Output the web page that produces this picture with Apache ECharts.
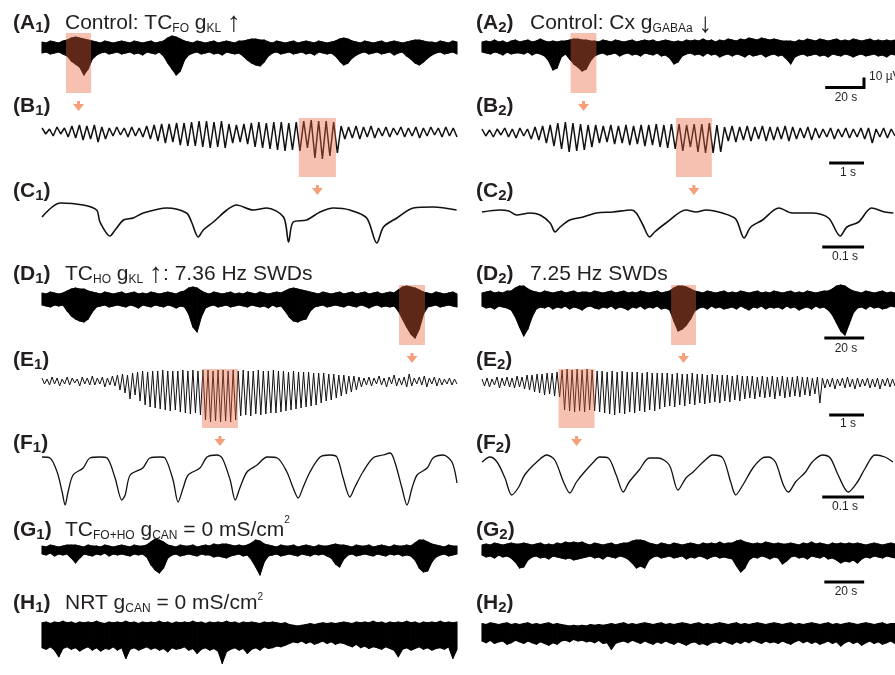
<!DOCTYPE html>
<html><head><meta charset="utf-8">
<script src="https://cdn.jsdelivr.net/npm/echarts@6/dist/echarts.min.js"></script>
<style>html,body{margin:0;padding:0;background:#fff}#c{width:895px;height:675px}</style>
</head><body><div id="c"></div>
<script>
// ---------------- DATA (µV amplitude, time in s or ms) ----------------
const durA = 213, durB = 11.86, durC = 988, durD = 207.5, durE = 11.86, durF = 988, durG = 207.5, durH = 207.5;

// dense traces: upper / lower envelope per bin (µV)
const a1Hi = [5,4,6,5,4,6,7,9,10,9, 8,7,6,5,4,6,5,4,5,6, 5,4,6,5,4,5,6,4,5,6, 9,11,10,8,6,5,4,6,5,4, 5,6,4,5,6,5,4,6,6,7, 8,8,7,7,5,4,6,5,4,5, 6,4,5,6,5,4,6,5,4,5, 6,8,9,8,6,5,4,6,5,4, 5,6,4,5,6,5,4,5,6,7, 7,6,5,5,4,6,5,4,6,5];
const a1Lo = [-6,-5,-7,-6,-5,-7,-9,-14,-17,-20, -28,-22,-12,-8,-6,-5,-7,-6,-5,-7, -6,-5,-7,-6,-8,-5,-6,-7,-5,-9, -16,-22,-28,-24,-13,-8,-6,-5,-7,-6, -5,-7,-6,-8,-5,-6,-7,-6,-9,-13, -16,-18,-19,-15,-9,-6,-5,-7,-6,-5, -7,-6,-5,-7,-6,-8,-5,-6,-7,-6, -9,-14,-18,-16,-11,-8,-6,-5,-7,-6, -5,-7,-6,-5,-8,-6,-5,-9,-12,-16, -18,-15,-11,-8,-6,-5,-7,-6,-5,-7];
const a2Hi = [5,6,5,7,5,6,4,6,7,5, 6,7,5,6,8,6,5,6,5,6, 6,7,8,8,7,7,6,6,5,7, 6,5,7,6,5,6,7,5,6,7, 6,7,5,6,7,6,5,6,5,7, 6,7,6,8,6,7,5,7,6,8, 7,6,8,7,9,8,7,9,8,7, 8,7,6,6,6,5,7,6,8,7, 6,8,7,6,7,8,6,7,6,8, 7,6,7,8,6,7,6,7,6,7];
const a2Lo = [-5,-6,-7,-5,-6,-8,-5,-7,-6,-6, -7,-5,-8,-6,-7,-9,-14,-23,-21,-10, -7,-12,-17,-20,-24,-22,-14,-9,-7,-6, -8,-7,-6,-9,-7,-6,-8,-7,-9,-6, -7,-8,-6,-9,-8,-11,-17,-15,-9,-7, -6,-8,-7,-9,-6,-8,-7,-10,-8,-7, -9,-7,-8,-10,-7,-9,-8,-7,-10,-8, -7,-9,-8,-12,-17,-10,-8,-7,-9,-8, -7,-9,-8,-10,-7,-8,-9,-7,-8,-10, -8,-7,-9,-8,-7,-9,-8,-10,-7,-8];
const d1Hi = [6,5,7,6,5,6,8,10,11,10, 10,8,7,6,5,7,6,5,6,7, 5,6,7,5,6,5,7,6,5,6, 7,6,5,7,8,11,12,11,8,6, 5,7,6,5,6,7,5,6,5,7, 6,5,7,6,5,6,7,6,8,10, 11,10,9,8,7,6,5,7,6,5, 6,7,5,6,7,5,6,7,5,6, 7,5,6,7,6,9,12,13,12,11, 9,7,6,5,7,6,5,6,7,5];
const d1Lo = [-6,-7,-8,-6,-7,-6,-12,-17,-20,-22, -23,-20,-13,-8,-7,-6,-8,-7,-6,-7, -8,-6,-7,-9,-6,-7,-8,-6,-7,-8, -6,-7,-9,-7,-8,-15,-28,-33,-18,-9, -7,-6,-8,-7,-6,-8,-7,-6,-7,-8, -6,-7,-8,-7,-9,-6,-8,-7,-12,-18, -22,-23,-21,-20,-12,-8,-7,-6,-8,-7, -6,-7,-8,-6,-7,-8,-6,-7,-9,-7, -6,-8,-7,-8,-7,-12,-20,-28,-35,-39, -30,-15,-8,-7,-6,-8,-7,-6,-7,-8];
const d2Hi = [6,7,8,6,7,6,8,8,11,13, 13,10,8,7,6,8,7,6,7,8, 6,7,8,6,7,7,6,8,7,6, 7,8,6,7,8,6,7,6,8,7, 6,7,8,6,7,8,11,13,13,12, 10,8,7,6,8,7,6,7,8,6, 7,6,8,7,6,7,8,6,7,6, 8,7,6,7,8,6,7,6,8,7, 6,7,8,8,10,13,14,13,10,8, 7,6,8,7,6,7,8,6,7,6];
const d2Lo = [-7,-9,-8,-10,-7,-8,-9,-11,-18,-28, -37,-30,-18,-10,-8,-9,-7,-10,-8,-9, -7,-10,-8,-9,-11,-8,-7,-9,-10,-8, -9,-7,-10,-8,-9,-11,-8,-9,-7,-10, -8,-9,-7,-10,-9,-11,-22,-32,-30,-26, -20,-12,-9,-8,-10,-7,-9,-8,-10,-9, -8,-10,-7,-9,-11,-8,-9,-7,-10,-8, -9,-8,-10,-7,-9,-8,-11,-9,-8,-10, -7,-9,-8,-11,-16,-24,-32,-36,-25,-14, -9,-8,-10,-7,-9,-8,-10,-9,-7,-8];
const g1Hi = [4,3,5,4,3,4,5,5,5,4, 3,5,4,4,3,5,4,3,4,5, 4,3,5,4,4,5,8,11,10,8, 5,4,3,5,4,4,5,3,4,5, 4,6,5,6,6,5,4,5,4,5, 7,10,9,6,5,4,3,5,4,4, 5,3,4,5,4,3,5,4,4,5, 6,5,5,4,3,5,4,4,5,3, 4,5,4,3,5,4,4,5,4,7, 10,10,8,6,5,4,3,5,4,4];
const g1Lo = [-4,-5,-3,-6,-4,-5,-4,-8,-13,-8, -4,-5,-6,-4,-5,-3,-6,-4,-5,-4, -5,-6,-4,-5,-4,-7,-15,-20,-23,-18, -8,-5,-4,-6,-5,-4,-5,-6,-4,-5, -5,-7,-6,-7,-8,-6,-5,-4,-6,-5, -10,-17,-25,-12,-6,-5,-4,-6,-5,-4, -5,-6,-4,-5,-6,-4,-5,-4,-6,-8, -14,-17,-9,-5,-4,-6,-5,-4,-5,-6, -4,-5,-6,-4,-5,-4,-6,-5,-6,-10, -18,-22,-21,-12,-7,-5,-4,-6,-5,-4];
const g2Hi = [5,6,5,7,6,5,6,7,6,6, 7,6,5,6,7,5,6,5,7,6, 8,7,8,7,8,6,5,7,6,5, 6,7,5,6,7,7,9,10,10,9, 7,6,5,7,6,5,7,6,5,6, 7,6,5,7,6,7,6,8,6,7, 7,9,10,8,7,6,7,6,8,7, 6,7,6,6,7,6,5,7,6,8, 6,7,6,5,7,6,7,6,7,6, 7,6,5,6,7,6,5,6,7,6];
const g2Lo = [-5,-7,-6,-8,-5,-7,-6,-8,-12,-18, -17,-10,-7,-6,-8,-7,-9,-6,-7,-8, -9,-8,-10,-9,-8,-7,-6,-8,-7,-9, -6,-7,-8,-6,-7,-9,-13,-18,-16,-18, -10,-7,-6,-8,-7,-6,-8,-7,-6,-9, -7,-8,-6,-7,-9,-7,-6,-8,-7,-8, -9,-16,-22,-18,-10,-7,-8,-6,-7,-9, -7,-8,-14,-11,-7,-6,-8,-7,-9,-6, -7,-8,-6,-9,-8,-10,-13,-11,-12,-10, -13,-9,-7,-8,-6,-7,-8,-6,-7,-8];
const h1Hi = [13,14,12,14,13,15,13,14,12,14, 13,14,13,15,13,12,14,13,14,13, 15,13,14,12,14,13,14,13,15,13, 14,12,14,13,14,13,15,13,14,12, 14,13,14,13,15,13,14,12,14,13, 14,13,12,14,13,14,13,12,13,11, 10,9,10,11,12,11,12,13,12,13, 12,13,14,13,12,14,13,14,13,15, 13,14,12,14,13,14,13,15,13,14, 12,14,13,14,13,15,13,14,13,14];
const h1Lo = [-17,-19,-16,-20,-28,-18,-16,-19,-17,-21, -18,-16,-20,-17,-21,-18,-19,-16,-20,-17, -30,-19,-17,-20,-18,-16,-19,-17,-20,-18, -22,-17,-19,-18,-16,-20,-18,-24,-19,-17, -20,-18,-21,-36,-22,-19,-17,-20,-18,-24, -19,-17,-20,-16,-18,-17,-15,-16,-14,-12, -10,-11,-9,-12,-10,-13,-11,-9,-12,-10, -13,-11,-12,-14,-16,-13,-17,-15,-18,-16, -17,-19,-16,-18,-20,-28,-19,-17,-20,-18, -16,-19,-17,-20,-18,-17,-19,-16,-30,-19];
const h2Hi = [12,11,13,12,11,12,13,11,12,11, 12,13,11,12,11,12,13,11,12,11, 10,9,10,9,10,9,11,10,11,10, 11,12,11,12,13,11,12,11,12,13, 12,11,12,13,11,12,11,12,13,12, 11,12,13,11,12,11,12,13,12,11, 12,13,11,12,11,12,13,12,11,12, 13,12,11,12,13,11,12,11,12,13, 12,11,12,13,11,12,11,12,13,12, 11,12,13,12,11,12,13,11,12,12];
const h2Lo = [-9,-11,-8,-12,-10,-9,-13,-11,-8,-10, -12,-9,-11,-13,-10,-12,-14,-11,-13,-9, -8,-10,-7,-9,-8,-10,-9,-11,-8,-12, -11,-19,-12,-10,-9,-11,-8,-10,-12,-9, -11,-13,-10,-12,-9,-11,-13,-10,-12,-14, -11,-10,-13,-12,-14,-11,-10,-12,-9,-11, -13,-10,-12,-9,-11,-8,-10,-12,-9,-11, -10,-12,-9,-11,-13,-10,-8,-11,-9,-12, -10,-13,-11,-9,-12,-10,-15,-11,-9,-12, -10,-14,-11,-9,-12,-10,-13,-11,-9,-12];

// oscillation traces: alternating peak / trough (µV)
const b1 = [3,-3,2,-5,4,-3,3,-6,5,-7,6,-9,5,-8,6,-11,4,-8,3,-5,4,-4,3,-6,4,-5,3,-6,5,-8,6,-10,7,-12,7,-11,8,-14,8,-15,9,-15,10,-16,10,-17,9,-16,10,-17,7,-12,6,-11,7,-13,8,-16,9,-17,8,-18,9,-19,9,-20,8,-19,9,-20,10,-17,11,-27,10,-28,10,-25,9,-22,5,-8,4,-7,5,-8,4,-6,5,-7,3,-5,4,-6,3,-4,4,-6,3,-5,4,-7,3,-5,4,-4,3,-6,4,-5,3,-6];
const b2 = [2,-5,1,-6,2,-4,3,-6,2,-7,3,-5,2,-8,4,-9,5,-12,6,-15,8,-18,9,-21,8,-20,7,-19,6,-16,6,-12,5,-11,6,-13,5,-12,6,-14,5,-13,6,-15,6,-14,7,-16,6,-17,7,-18,7,-20,6,-16,7,-21,7,-22,8,-22,6,-21,4,-10,5,-11,4,-9,5,-10,4,-8,5,-10,4,-9,4,-8,5,-10,4,-8,3,-7,4,-9,3,-7,2,-6,3,-8,2,-6,3,-7,2,-6,3,-8,3,-12,2,-6,3,-7,2,-5];
const e1 = [3,-3,2,-4,4,-3,3,-5,2,-3,4,-4,3,-2,2,-5,4,-3,3,-4,5,-4,3,-3,4,-6,3,-4,5,-5,
  6,-9,7,-12,6,-18,8,-14,9,-20,
  10,-24,9,-26,10,-27,10,-28,11,-29,10,-30,10,-29,
  10,-31,11,-32,10,-33,11,-32,10,-34,
  11,-39,11,-41,10,-40,11,-41,11,-40,10,-41,11,-39,
  10,-35,11,-34,10,-35,10,-33,11,-34,10,-33,10,-32,11,-32,
  10,-31,10,-30,9,-29,10,-28,9,-27,9,-26,9,-25,8,-24,
  8,-22,8,-20,7,-19,7,-17,6,-15,6,-13,5,-11,5,-9,
  4,-6,3,-4,4,-5,3,-3,5,-4,3,-6,4,-3,6,-5,3,-4,4,-6,7,-5,3,-3,4,-4,5,-6,3,-3,4,-5,3,-4,2,-3,3,-4,2,-3];
const e2 = [2,-5,3,-6,2,-4,4,-7,3,-5,4,-6,3,-7,5,-6,4,-8,
  6,-9,6,-11,7,-12,7,-14,8,-13,8,-15,9,-16,
  11,-29,12,-30,11,-31,12,-30,11,-31,12,-29,11,-30,
  10,-31,10,-32,9,-33,10,-34,9,-32,10,-33,9,-31,9,-32,9,-30,8,-31,9,-29,8,-30,8,-28,
  8,-26,8,-25,7,-26,8,-24,7,-25,7,-23,8,-24,7,-22,7,-23,6,-22,7,-21,6,-22,6,-20,6,-21,5,-19,6,-20,
  5,-18,5,-17,5,-18,4,-16,5,-17,4,-16,5,-18,4,-15,5,-17,4,-16,4,-15,5,-16,4,-14,4,-15,3,-13,4,-22,
  3,-7,2,-6,3,-8,2,-5,3,-7,4,-6,2,-8,3,-6,2,-5,3,-7,2,-6,3,-8,2,-5,3,-6,2,-5];

// expanded cycles: [time ms, µV]
const c1 = [[0,-4],[43,10],[98,8],[130,3],[138,-9],[162,-23],[174,-17],[194,-7],[217,-5],[241,0],[297,5],[344,0],[356,-9],[372,-24],[384,-17],[408,-9],[440,3],[463,8],[503,3],[535,5],[575,-4],[587,-29],[598,-9],[630,-7],[662,1],[694,5],[733,3],[773,-5],[797,-30],[813,-14],[845,-5],[884,5],[932,6],[987,3]];
const c2 = [[0,1],[43,3],[64,2],[83,-2],[115,0],[139,-2],[163,-10],[175,-19],[187,-14],[210,-7],[242,-4],[274,0],[313,1],[357,3],[369,0],[385,-12],[401,-24],[413,-19],[440,-10],[488,3],[512,1],[536,3],[575,0],[607,-6],[627,-25],[643,-14],[671,-7],[710,5],[742,0],[790,0],[829,-5],[857,-23],[873,-14],[901,-9],[932,5],[964,1],[984,0]];
const f1 = [[0,8],[19,7],[36,-7],[48,-27],[55,-40],[62,-27],[74,-10],[98,-3],[114,7],[138,8],[155,7],[174,-13],[190,-35],[198,-30],[210,-10],[240,-3],[257,7],[281,8],[293,7],[312,-15],[324,-37],[336,-23],[348,-10],[376,-3],[393,8],[417,10],[429,7],[448,-15],[460,-35],[471,-23],[488,-7],[512,0],[536,8],[560,7],[583,-7],[598,-23],[610,-33],[621,-23],[638,-7],[662,8],[686,10],[702,8],[717,-13],[733,-32],[745,-22],[764,-7],[788,7],[812,10],[829,12],[840,3],[857,-23],[869,-40],[881,-23],[893,-10],[917,-3],[931,7],[955,10],[976,3],[988,-18]];
const f2 = [[0,3],[19,8],[36,3],[55,-13],[71,-30],[88,-22],[102,-10],[131,3],[155,10],[174,5],[195,-17],[210,-28],[226,-17],[243,-8],[267,3],[281,8],[302,7],[321,-10],[338,-27],[352,-17],[376,-5],[400,7],[421,7],[448,0],[469,-25],[488,-13],[505,-7],[529,3],[552,10],[576,7],[595,-17],[607,-30],[624,-20],[648,-3],[671,7],[686,8],[702,3],[721,-20],[733,-27],[750,-17],[774,-7],[790,3],[814,10],[833,7],[852,-10],[876,-27],[898,-17],[917,-3],[940,10],[964,8],[983,3]];

// highlighted windows: [t start, t end, µV top, µV bottom]
const boxA1 = [12.3, 25.2, 14, -46], boxA2 = [45.7, 59.0, 14, -46];
const boxB1 = [7.34, 8.40, 13, -46], boxB2 = [5.57, 6.60, 13, -46];
const boxD1 = [178.5, 191.5, 14, -46], boxD2 = [95, 107.5, 14, -46];
const boxE1 = [4.57, 5.60, 12, -47], boxE2 = [2.20, 3.23, 12, -47];

// scale bars
const sbA = [[177,-40.5],[197,-40.5],[197,-30.5]];
const sbB = [[9.97,-32],[10.97,-32]];
const sbC = [[814,-34],[914,-34]];
const sbD = [[172,-39],[192,-39]];
const sbE = [[9.97,-34],[10.97,-34]];
const sbF = [[814,-32],[914,-32]];
const sbG = [[172,-32],[192,-32]];

// ---------------- BUILD ----------------
const FAM = '"Liberation Sans", Arial, Helvetica, sans-serif';
const TXT = '#231f20';
const grids = [], xAxes = [], yAxes = [], series = [], graphics = [];
const L = 42, R = 482, W = 415;
function addGrid(left, base, dur){
  const i = grids.length;
  grids.push({left: left, width: W, top: base - 20, height: 70});
  xAxes.push({gridIndex: i, type: 'value', min: 0, max: dur, show: false});
  yAxes.push({gridIndex: i, type: 'value', min: -50, max: 20, show: false});
  return i;
}
// dense trace: band between upper and lower envelope, drawn bin by bin
function noise(gi, dur, hi, lo){
  const dt = dur / (hi.length - 1);
  const data = hi.map((v, i) => [i * dt, v, lo[i]]);
  series.push({type: 'custom', xAxisIndex: gi, yAxisIndex: gi, silent: true, clip: false,
    data: data, encode: {x: 0, y: [1, 2]},
    renderItem: function(params, api){
      const i = params.dataIndex;
      if (i >= data.length - 1) return null;
      const n = data[i + 1];
      const p1 = api.coord([api.value(0), api.value(1)]);
      const p2 = api.coord([n[0], n[1]]);
      const p3 = api.coord([n[0], n[2]]);
      const p4 = api.coord([api.value(0), api.value(2)]);
      return {type: 'polygon', shape: {points: [p1, p2, p3, p4]},
        style: {fill: '#000', stroke: '#000', lineWidth: 1.1, lineJoin: 'round'}};
    }});
}
function osc(gi, dur, vals, width){
  const dt = dur / (vals.length - 1);
  series.push({type: 'line', xAxisIndex: gi, yAxisIndex: gi, symbol: 'none', silent: true,
    data: vals.map((v, i) => [i * dt, v]), lineStyle: {color: '#111', width: width}});
}
function pairs(gi, data, width){
  series.push({type: 'line', xAxisIndex: gi, yAxisIndex: gi, symbol: 'none', silent: true, smooth: 0.3,
    data: data, lineStyle: {color: '#111', width: width}});
}
function box(gi, b){
  series.push({type: 'custom', xAxisIndex: gi, yAxisIndex: gi, clip: false, z: 10, silent: true,
    data: [b], encode: {x: [0, 1], y: [2, 3]},
    renderItem: function(p, api){
      const a = api.coord([api.value(0), api.value(2)]);
      const c = api.coord([api.value(1), api.value(3)]);
      const cx = (a[0] + c[0]) / 2, by = c[1];
      return {type: 'group', children: [
        {type: 'rect', shape: {x: a[0], y: a[1], width: c[0] - a[0], height: c[1] - a[1]},
          style: {fill: 'rgba(235,100,60,0.4)'}},
        {type: 'polygon', shape: {points: [[cx-1.5,by+8],[cx+1.5,by+8],[cx+1.5,by+11],[cx+5.5,by+11],[cx,by+18],[cx-5.5,by+11],[cx-1.5,by+11]]},
          style: {fill: '#F5A07A'}}
      ]};
    }});
}
function scaleBar(gi, data){
  series.push({type: 'line', xAxisIndex: gi, yAxisIndex: gi, symbol: 'none', silent: true, z: 5,
    data: data, lineStyle: {color: '#000', width: 3, join: 'miter'}});
}

// text helpers
const mctx = document.createElement('canvas').getContext('2d');
function fontStr(size, bold){ return (bold ? 'bold ' : '') + size + 'px ' + FAM; }
function midOff(size, bold){
  mctx.font = fontStr(size, bold);
  mctx.textBaseline = 'alphabetic';
  const a = mctx.measureText('H').actualBoundingBoxAscent;
  mctx.textBaseline = 'middle';
  const m = mctx.measureText('H').actualBoundingBoxAscent;
  mctx.textBaseline = 'alphabetic';
  return a - m;
}
function textRun(x, base, parts){
  let cx = x;
  parts.forEach(function(p){
    const t = p[0], size = p[1], bold = p[2], dy = p[3] || 0;
    mctx.font = fontStr(size, bold);
    const w = mctx.measureText(t).width;
    graphics.push({type: 'text', x: cx, y: base + dy - midOff(size, bold), silent: true, z: 100,
      style: {text: t, fontSize: size, fontWeight: bold ? 'bold' : 'normal', fontFamily: FAM, fill: TXT,
        align: 'left', verticalAlign: 'middle', textAlign: 'left', textVerticalAlign: 'middle'}});
    cx += w;
  });
}
function panel(x, base, letter, num){
  textRun(x, base, [['(' + letter, 21, true, 0], [num, 15, true, 3], [')', 21, true, 0]]);
}
function smallText(cx, cy, t){
  graphics.push({type: 'text', x: cx, y: cy, silent: true, z: 100,
    style: {text: t, fontSize: 12, fontFamily: FAM, fill: TXT, align: 'center', verticalAlign: 'middle', textAlign: 'center', textVerticalAlign: 'middle'}});
}

const baseA = 47, baseB = 131, baseC = 213, baseD = 299, baseE = 381, baseF = 465, baseG = 550, baseH = 637;

let g;
g = addGrid(L, baseA, durA); noise(g, durA, a1Hi, a1Lo); box(g, boxA1);
g = addGrid(R, baseA, durA); noise(g, durA, a2Hi, a2Lo); box(g, boxA2); scaleBar(g, sbA);
g = addGrid(L, baseB, durB); osc(g, durB, b1, 1.5); box(g, boxB1);
g = addGrid(R, baseB, durB); osc(g, durB, b2, 1.5); box(g, boxB2); scaleBar(g, sbB);
g = addGrid(L, baseC, durC); pairs(g, c1, 1.6);
g = addGrid(R, baseC, durC); pairs(g, c2, 1.6); scaleBar(g, sbC);
g = addGrid(L, baseD, durD); noise(g, durD, d1Hi, d1Lo); box(g, boxD1);
g = addGrid(R, baseD, durD); noise(g, durD, d2Hi, d2Lo); box(g, boxD2); scaleBar(g, sbD);
g = addGrid(L, baseE, durE); osc(g, durE, e1, 1.0); box(g, boxE1);
g = addGrid(R, baseE, durE); osc(g, durE, e2, 1.0); box(g, boxE2); scaleBar(g, sbE);
g = addGrid(L, baseF, durF); pairs(g, f1, 1.3);
g = addGrid(R, baseF, durF); pairs(g, f2, 1.3); scaleBar(g, sbF);
g = addGrid(L, baseG, durG); noise(g, durG, g1Hi, g1Lo);
g = addGrid(R, baseG, durG); noise(g, durG, g2Hi, g2Lo); scaleBar(g, sbG);
g = addGrid(L, baseH, durH); noise(g, durH, h1Hi, h1Lo);
g = addGrid(R, baseH, durH); noise(g, durH, h2Hi, h2Lo);

const lx = 13, rx = 476;
panel(lx, 29, 'A', '1'); panel(rx, 29, 'A', '2');
panel(lx, 112, 'B', '1'); panel(rx, 112, 'B', '2');
panel(lx, 197, 'C', '1'); panel(rx, 197, 'C', '2');
panel(lx, 280, 'D', '1'); panel(rx, 280, 'D', '2');
panel(lx, 366, 'E', '1'); panel(rx, 366, 'E', '2');
panel(lx, 449, 'F', '1'); panel(rx, 449, 'F', '2');
panel(lx, 536, 'G', '1'); panel(rx, 536, 'G', '2');
panel(lx, 609, 'H', '1'); panel(rx, 609, 'H', '2');

textRun(65, 29, [['Control: TC', 21, false], ['FO', 12, false, 3], [' g', 21, false], ['KL', 12, false, 3], [' ', 21, false], ['\u2191', 28, false, 2]]);
textRun(530, 29, [['Control: Cx g', 21, false], ['GABAa', 12, false, 3], [' ', 21, false], ['\u2193', 28, false, 3]]);
textRun(65, 280, [['TC', 21, false], ['HO', 12, false, 3], [' g', 21, false], ['KL', 12, false, 3], [' ', 21, false], ['\u2191', 28, false, 2], [': 7.36 Hz SWDs', 21, false]]);
textRun(530, 280, [['7.25 Hz SWDs', 21, false]]);
textRun(65, 536, [['TC', 21, false], ['FO+HO', 12, false, 3], [' g', 21, false], ['CAN', 12, false, 3], [' = 0 mS/cm', 21, false], ['2', 10, false, -13]]);
textRun(65, 609, [['NRT g', 21, false], ['CAN', 12, false, 3], [' = 0 mS/cm', 21, false], ['2', 10, false, -9]]);

graphics.push({type: 'text', x: 869, y: 77, silent: true, z: 100,
  style: {text: '10 \u00b5V', fontSize: 12, fontFamily: FAM, fill: TXT, align: 'left', verticalAlign: 'middle', textAlign: 'left', textVerticalAlign: 'middle'}});
smallText(846, 98, '20 s');
smallText(848, 173, '1 s');
smallText(845, 257, '0.1 s');
smallText(846, 349, '20 s');
smallText(848, 424, '1 s');
smallText(845, 507, '0.1 s');
smallText(846, 592, '20 s');

const chart = echarts.init(document.getElementById('c'), null, {renderer: 'canvas'});
chart.setOption({
  animation: false,
  backgroundColor: '#fff',
  grid: grids, xAxis: xAxes, yAxis: yAxes, series: series,
  graphic: {elements: graphics}
});
</script></body></html>
